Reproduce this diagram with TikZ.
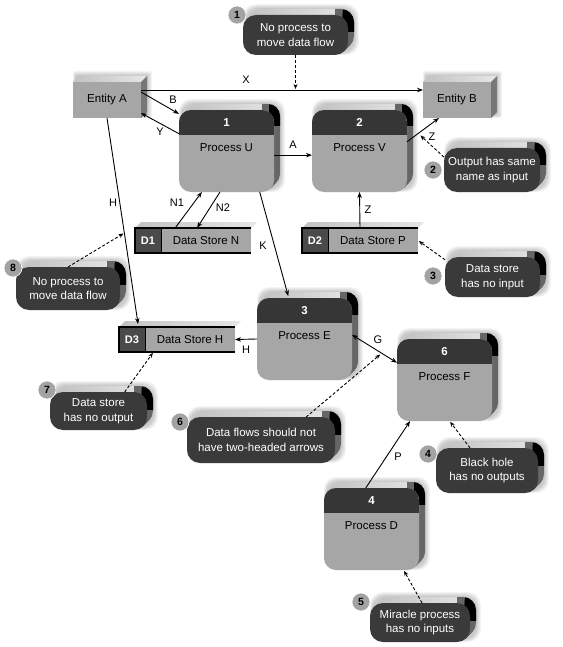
\documentclass[tikz,border=0pt]{standalone}
\usepackage{fontspec}
\setmainfont{Liberation Sans}
\usetikzlibrary{arrows.meta}
\definecolor{frontc}{HTML}{A6A6A6}
\definecolor{darkc}{HTML}{363636}
\definecolor{callc}{HTML}{3A3A3A}
\definecolor{topl}{HTML}{C2C2C2}
\definecolor{topr}{HTML}{E6E6E6}
\definecolor{sidec}{HTML}{666666}
\definecolor{entside}{HTML}{777777}
\definecolor{badgec}{HTML}{A3A3A3}
\definecolor{dsc}{HTML}{4A4A4A}
\tikzset{
 flow/.style={line width=0.9pt, -{Stealth[length=6pt,width=4.5pt]}},
 flowtwo/.style={line width=0.9pt, {Stealth[length=6pt,width=4.5pt]}-{Stealth[length=6pt,width=4.5pt]}},
 note/.style={line width=0.9pt, dash pattern=on 3pt off 2pt, -{Stealth[length=5pt,width=4pt]}},
 lbl/.style={font=\fontsize{11}{13}\selectfont, inner sep=0pt},
 ptext/.style={font=\fontsize{11.5}{14}\selectfont, inner sep=0pt},
 ctext/.style={font=\fontsize{11.5}{14.5}\selectfont, text=white, align=center, inner sep=0pt},
 hnum/.style={font=\fontsize{11.5}{13}\selectfont\bfseries, text=white, inner sep=0pt},
 dnum/.style={font=\fontsize{11}{13}\selectfont\bfseries, text=white, inner sep=0pt},
 bnum/.style={circle, fill=badgec, draw=white, line width=0.6pt, minimum size=18pt, inner sep=0pt, font=\fontsize{10.5}{12}\selectfont\bfseries},
 box/.style={inner sep=0pt, outer sep=0pt, draw=none},
}
% soft glow
\newcommand\halo[5]{%
 \foreach \k in {1,...,5}{\fill[black, opacity=0.045, rounded corners=#5pt] ({#1+3-\k*0.6},{#2-6-\k}) rectangle ({#3+6+\k},{#4-3+\k*0.6});}%
}
% extrusion of a rounded rectangle: x1 y1 x2 y2 r d
\newcommand\extr[6]{%
 \foreach \k in {1,...,#6}{\shade[left color=topl, right color=topr, rounded corners=#5pt] ({#1+\k},{#2-\k}) rectangle ({#3+\k},{#4-\k});}%
 \begin{scope}
  \clip ({#3-#5},{#2-#6-1}) rectangle ({#3+#6+1},{#4+1});
  \foreach \k in {1,...,#6}{\fill[sidec, rounded corners=#5pt] ({#1+\k},{#2-\k}) rectangle ({#3+\k},{#4-\k});}%
 \end{scope}
 \begin{scope}
  \clip ({#3-#5*0.4},{#2-#6-1}) rectangle ({#3+#6+1},{#2+#5+4});
  \foreach \k in {1,...,#6}{\fill[black, rounded corners=#5pt] ({#1+\k},{#2-\k}) rectangle ({#3+\k},{#4-\k});}%
 \end{scope}
}
% process: name x1 y1 number text
\newcommand\proc[5]{%
 \halo{#2}{#3}{#2+95}{#3+82}{12}%
 \extr{#2}{#3}{#2+95}{#3+82}{12}{6}%
 \fill[frontc, rounded corners=12pt] (#2,#3) rectangle ({#2+95},{#3+82});
 \begin{scope}
  \clip[rounded corners=12pt] (#2,#3) rectangle ({#2+95},{#3+82});
  \fill[darkc] (#2,#3) rectangle ({#2+95},{#3+25});
 \end{scope}
 \node[box, minimum width=95pt, minimum height=82pt] (#1) at ({#2+47.5},{#3+41}) {};
 \node[hnum] (#1n) at ({#2+47.5},{#3+12.5}) {#4};
 \node[ptext] (#1t) at ({#2+47.5},{#3+38}) {#5};
}
% entity: name x1 y1 text  (68 x 36)
\newcommand\ent[4]{%
 \halo{#2}{#3}{#2+68}{#3+36}{2}%
 \shade[left color=topl, right color=topr] (#2,#3) -- ({#2+6},{#3-6}) -- ({#2+74},{#3-6}) -- ({#2+68},#3) -- cycle;
 \fill[entside] ({#2+68},#3) -- ({#2+74},{#3-6}) -- ({#2+74},{#3+30}) -- ({#2+68},{#3+36}) -- cycle;
 \fill[frontc] (#2,#3) rectangle ({#2+68},{#3+36});
 \node[box, minimum width=68pt, minimum height=36pt] (#1) at ({#2+34},{#3+18}) {};
 \node[ptext] (#1t) at ({#2+34},{#3+18}) {#4};
}
% data store: name x1 y1 Dlabel text (116 x 25)
\newcommand\dstore[5]{%
 \shade[left color=topl, right color=topr] (#2,#3) -- ({#2+6},{#3-6}) -- ({#2+122},{#3-6}) -- ({#2+116},#3) -- cycle;
 \fill[frontc] (#2,#3) rectangle ({#2+116},{#3+25});
 \fill[dsc] (#2,#3) rectangle ({#2+26},{#3+25});
 \draw[line width=1.1pt] ({#2+116},#3) -- (#2,#3) -- (#2,{#3+25}) -- ({#2+116},{#3+25});
 \draw[line width=0.9pt] ({#2+26},#3) -- ({#2+26},{#3+25});
 \node[box, minimum width=116pt, minimum height=25pt] (#1) at ({#2+58},{#3+12.5}) {};
 \node[dnum] (#1d) at ({#2+13},{#3+12.5}) {#4};
 \node[ptext] (#1t) at ({#2+71},{#3+12.5}) {#5};
}
% callout: name x1 y1 x2 y2 num bx by text
\newcommand\callout[9]{%
 \halo{#2}{#3}{#4}{#5}{13}%
 \extr{#2}{#3}{#4}{#5}{13}{6}%
 \fill[callc, rounded corners=13pt] (#2,#3) rectangle (#4,#5);
 \node[box, minimum width={#4-#2}, minimum height={#5-#3}] (#1) at ({(#2+#4)/2},{(#3+#5)/2}) {};
 \node[ctext] (#1t) at ({(#2+#4)/2},{(#3+#5)/2}) {#9};
 \node[bnum] (#1b) at (#7,#8) {#6};
}
\begin{document}
\begin{tikzpicture}[x=1pt,y=-1pt]
\useasboundingbox (0,0) rectangle (562,647);
\fill[white] (0,0) rectangle (562,647);

% entities
\ent{eA}{73}{82}{Entity A}
\ent{eB}{423}{82}{Entity B}
% processes
\proc{pU}{179}{110}{1}{Process U}
\proc{pV}{312}{110}{2}{Process V}
\proc{pE}{257}{298}{3}{Process E}
\proc{pF}{397}{339}{6}{Process F}
\proc{pD}{324}{488}{4}{Process D}
% data stores
\dstore{dN}{135}{228}{D1}{Data Store N}
\dstore{dP}{302}{228}{D2}{Data Store P}
\dstore{dH}{119}{327}{D3}{Data Store H}
% callouts
\callout{cA}{243}{15}{348}{55}{1}{237}{15}{No process to\\move data flow}
\callout{cB}{444}{148}{540}{192}{2}{433}{170}{Output has same\\name as input}
\callout{cC}{445}{257}{540}{297}{3}{433}{276}{Data store\\has no input}
\callout{cD}{436}{448}{538}{493}{4}{428}{454}{Black hole\\has no outputs}
\callout{cE}{370}{603}{470}{642}{5}{361}{602}{Miracle process\\has no inputs}
\callout{cF}{187}{417}{335}{463}{6}{180}{422}{Data flows should not\\have two-headed arrows}
\callout{cG}{50}{392}{147}{430}{7}{47}{390}{Data store\\has no output}
\callout{cH}{16}{267}{120}{310}{8}{13}{268}{No process to\\move data flow}

% data flows
\coordinate (yX) at (0,90);
\coordinate (yB) at (0,92);
\draw[flow] (eA.east |- yX) coordinate (xs) -- (eB.west |- yX);
\draw[flow] (eA.east |- yB) -- (pU.142);
\draw[flow] (pU.160) -- (eA.-21);
\draw[flow] (pU.-5) -- (pU.-5 -| pV.west);
\draw[flow] (pV.11) -- coordinate[pos=0.35] (zm) (eB.-135);
\draw[flow] (dP.north) -- (pV.south);
\draw[flow, shorten >=3pt] (eA.south) -- coordinate[pos=0.55] (hm) (dH.162);
\draw[flow] (dN.145) -- (pU.-121);
\draw[flow] (pU.-99) -- (dN.72);
\draw[flow, shorten >=2pt] (pU.-51) -- (pE.111);
\draw[flow] (pE.west) -- (dH.east);
\draw[flowtwo] (pE.5) -- coordinate[pos=0.66] (gm) (pF.160);
\draw[flow] (pD.98) -- (pF.-130);

% notes
\draw[note, shorten >=1pt] (cA.south) -- (cA.south |- xs);
\draw[note, shorten >=3pt] (cB.165) -- (zm);
\draw[note, shorten >=1pt] (cC.160) -- (dP.east);
\draw[note, shorten >=1pt] (cH.north) -- (hm);
\draw[note, shorten >=1pt] (cG.36) -- (dH.-152);
\draw[note, shorten >=2pt] (cF.27) -- (gm);
\draw[note, shorten >=1pt] (cD.127) -- (pF.-83);
\draw[note, shorten >=1pt] (cE.84) -- (pD.-52);

% labels
\node[lbl] (lX) at (246,80) {X};
\node[lbl] (lB) at (173,100) {B};
\node[lbl] (lY) at (160,132) {Y};
\node[lbl] (lA) at (293,145) {A};
\node[lbl] (lZa) at (432,137) {Z};
\node[lbl] (lZb) at (368,210) {Z};
\node[lbl] (lHa) at (113,203) {H};
\node[lbl] (lNa) at (177,203) {N1};
\node[lbl] (lNb) at (223,208) {N2};
\node[lbl] (lK) at (263,246) {K};
\node[lbl] (lHb) at (246,350) {H};
\node[lbl] (lG) at (378,340) {G};
\node[lbl] (lP) at (398,457) {P};
\end{tikzpicture}
\end{document}
